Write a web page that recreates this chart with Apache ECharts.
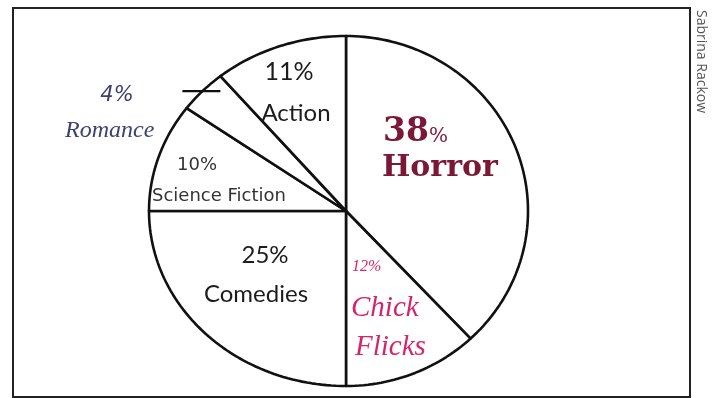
<!DOCTYPE html>
<html>
<head>
<meta charset="utf-8">
<script src="https://cdn.jsdelivr.net/npm/echarts@6/dist/echarts.min.js"></script>
<style>
  html, body { margin: 0; padding: 0; background: #fff; }
  #movie_pie { width: 715px; height: 398px; }
</style>
</head>
<body>
<div id="movie_pie"></div>
<script>
// slices run clockwise from 12 o'clock
const genres = ['Horror', 'Chick Flicks', 'Comedies', 'Science Fiction', 'Romance', 'Action'];
const shares = [38, 12, 25, 10, 4, 11];

// hand drawn ellipse, a bit fatter on the left
const cx = 346, cy = 211, rxLeft = 197, rxRight = 182, ry = 175;

const ink = '#1c1c1c';
const maroon = '#7b1737';
const pink = '#d4246a';
const slate = '#3d4070';

// where each slice's text goes (pct line then name lines)
const labelLayout = [
    [ // Horror
        { part: 'pct', x: 383, y: 132, align: 'left', rich: true },
        { part: 'name', x: 382, y: 168, align: 'left', font: 'bold 30px "DejaVu Serif"', fill: maroon }
    ],
    [ // Chick Flicks
        { part: 'pct', x: 352, y: 267, align: 'left', font: 'italic 16px "Liberation Serif"', fill: pink },
        { part: 'word0', x: 351, y: 308, align: 'left', font: 'italic 29px "Liberation Serif"', fill: pink },
        { part: 'word1', x: 355, y: 347, align: 'left', font: 'italic 29px "Liberation Serif"', fill: pink }
    ],
    [ // Comedies
        { part: 'pct', x: 265, y: 255, align: 'center', font: '24px Lato', fill: ink },
        { part: 'name', x: 256, y: 294, align: 'center', font: '24px Lato', fill: ink }
    ],
    [ // Science Fiction
        { part: 'pct', x: 197, y: 165, align: 'center', font: '18px "DejaVu Sans"', fill: '#333' },
        { part: 'name', x: 152, y: 196, align: 'left', font: '18px "DejaVu Sans"', fill: '#333' }
    ],
    [ // Romance
        { part: 'pct', x: 117, y: 96, align: 'center', font: 'italic 21px "DejaVu Sans"', fill: slate },
        { part: 'name', x: 65, y: 131, align: 'left', font: 'italic 24px "Liberation Serif"', fill: slate }
    ],
    [ // Action
        { part: 'pct', x: 289, y: 72, align: 'center', font: '25px Lato', fill: ink },
        { part: 'name', x: 296, y: 113, align: 'center', font: '24px Lato', fill: ink }
    ]
];

function ellipsePt(t) {
    const c = Math.cos(t);
    return [cx + (c < 0 ? rxLeft : rxRight) * c, cy - ry * Math.sin(t)];
}

function renderSlice(params, api) {
    const i = params.dataIndex;
    let total = 0, before = 0;
    for (let j = 0; j < shares.length; j++) {
        total += shares[j];
        if (j < i) before += shares[j];
    }
    const a0 = Math.PI / 2 - before / total * Math.PI * 2;
    const a1 = a0 - api.value(0) / total * Math.PI * 2;
    const pts = [[cx, cy]];
    const n = Math.max(6, Math.ceil(Math.abs(a1 - a0) * 40));
    for (let k = 0; k <= n; k++) {
        pts.push(ellipsePt(a0 + (a1 - a0) * k / n));
    }
    const children = [{
        type: 'polygon',
        shape: { points: pts },
        style: { fill: '#fff', stroke: '#111', lineWidth: 2.6, lineJoin: 'round' }
    }];

    const words = genres[i].split(' ');
    labelLayout[i].forEach(function (l) {
        let text;
        if (l.part === 'pct') text = api.value(0) + '%';
        else if (l.part === 'name') text = genres[i];
        else text = words[+l.part.slice(4)];
        const style = { text: text, x: l.x, y: l.y, align: l.align, verticalAlign: 'middle' };
        if (l.rich) {
            style.text = '{n|' + api.value(0) + '}{p|%}';
            style.rich = {
                n: { font: 'bold 33px "DejaVu Serif"', fill: maroon },
                p: { font: '20px "DejaVu Serif"', fill: maroon, verticalAlign: 'bottom', padding: [0, 0, 2, 0] }
            };
        } else {
            style.font = l.font;
            style.fill = l.fill;
        }
        children.push({ type: 'text', style: style });
    });

    // small tick marking the thin Romance slice
    if (genres[i] === 'Romance') {
        const p = ellipsePt((a0 + a1) / 2);
        children.push({
            type: 'line',
            shape: { x1: p[0] - 20, y1: p[1], x2: p[0] + 18, y2: p[1] },
            style: { stroke: '#111', lineWidth: 2.2 }
        });
    }
    return { type: 'group', children: children };
}

const option = {
    backgroundColor: '#fff',
    animation: false,
    graphic: [
        {
            type: 'rect',
            shape: { x: 13, y: 8, width: 677, height: 389 },
            style: { fill: 'none', stroke: '#222', lineWidth: 2 }
        },
        {
            type: 'text',
            x: 701, y: 10,
            rotation: -Math.PI / 2,
            style: {
                text: 'Sabrina Rackow',
                font: '14px "Open Sans"',
                fill: '#555',
                align: 'left',
                verticalAlign: 'middle'
            }
        }
    ],
    series: [
        {
            type: 'custom',
            coordinateSystem: 'none',
            renderItem: renderSlice,
            data: shares.map(function (v) { return [v]; })
        }
    ]
};

const pieChart = echarts.init(document.getElementById('movie_pie'));
pieChart.setOption(option);
window.addEventListener('resize', function () {
    pieChart.resize();
});
</script>
</body>
</html>
